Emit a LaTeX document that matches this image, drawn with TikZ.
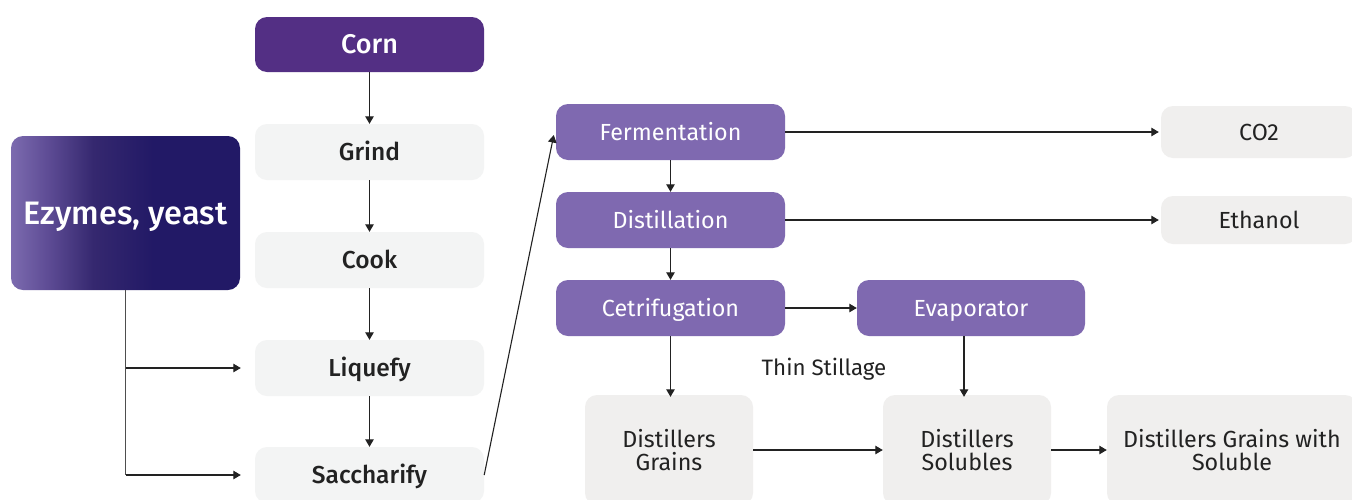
\documentclass[tikz,border=0pt]{standalone}
\usepackage{fontspec}
\setmainfont{Fira Sans}[BoldFont={Fira Sans Medium}]
\usetikzlibrary{arrows.meta}
\definecolor{cornc}{HTML}{532F84}
\definecolor{procc}{HTML}{7F69B0}
\definecolor{grayL}{HTML}{F3F4F4}
\definecolor{grayR}{HTML}{F0EFEE}
\definecolor{txt}{HTML}{222222}
\definecolor{ezA}{HTML}{7C6BAF}
\definecolor{ezB}{HTML}{5E4C95}
\definecolor{ezC}{HTML}{35286F}
\definecolor{ezD}{HTML}{221966}
\pgfdeclarehorizontalshading{ezyshade}{100bp}{color(0bp)=(ezA); color(25bp)=(ezA); color(33bp)=(ezB); color(43bp)=(ezC); color(56bp)=(ezD); color(100bp)=(ezD)}
\tikzset{
  base/.style={rounded corners=12pt, minimum width=229pt, minimum height=56pt, inner sep=0pt, align=center, font=\fontsize{23.3}{23}\selectfont},
  capped/.style={text height=#1, text depth=0pt},
  dark/.style={base, capped=18.6pt, fill=cornc, text=white, font=\fontsize{27}{28}\selectfont\bfseries},
  lgray/.style={base, capped=16.9pt, fill=grayL, text=txt, font=\fontsize{24.5}{26}\selectfont\bfseries},
  proc/.style={base, capped=16pt, fill=procc, text=white},
  rgray/.style={base, fill=grayR, text=txt},
  arr/.style={draw=txt, line width=1.1pt, -{Triangle[width=8.5pt,length=7.5pt]}},
  ln/.style={draw=txt!80, line width=1.1pt}
}
\begin{document}
\begin{tikzpicture}[x=1pt,y=-1pt]
\useasboundingbox (0,0) rectangle (1352,499);
\clip (0,0) rectangle (1352,499);
\fill[white] (0,0) rectangle (1352,499);
% left column
\node[dark] (corn) at (369.5,44.5) [minimum height=55pt] {Corn};
\node[lgray] (grind) at (369.5,152) {Grind};
\node[lgray] (cook) at (369.5,260) {Cook};
\node[lgray] (liq) at (369.5,368) {Liquefy};
\node[lgray] (sacc) at (369.5,475) {Saccharify};
\node[base, capped=22.4pt, shading=ezyshade, text=white, minimum height=154pt, font=\fontsize{32.5}{34}\selectfont\bfseries] (ezy) at (125.5,213) {Ezymes, yeast};
% process column
\node[proc] (ferm) at (670.5,132) {Fermentation};
\node[proc] (dist) at (670.5,220) {Distillation};
\node[proc] (cent) at (670.5,308) {Cetrifugation};
\node[proc, minimum width=228pt] (evap) at (971,308) {Evaporator};
% outputs
\node[rgray, capped=16pt, minimum width=196pt, minimum height=52pt] (co2) at (1259,132) {CO2};
\node[rgray, capped=16pt, minimum width=196pt, minimum height=48pt] (eth) at (1259,220) {Ethanol};
\node[rgray, minimum width=168pt, minimum height=110pt] (dg) at (669,450) {Distillers\\Grains};
\node[rgray, minimum width=168pt, minimum height=110pt] (ds) at (967,450) {Distillers\\Solubles};
\node[rgray, minimum width=250pt, minimum height=110pt] (dgs) at (1232,450) {Distillers Grains with\\Soluble};
\node[text=txt, font=\fontsize{22.3}{24}\selectfont, inner sep=0pt] (thin) at (824,369) {Thin Stillage};
% connectors
\draw[arr] (corn) -- (grind);
\draw[arr] (grind) -- (cook);
\draw[arr] (cook) -- (liq);
\draw[arr] (liq) -- (sacc);
\draw[ln] (ezy.south) -- (ezy.south |- sacc.west);
\draw[arr, shorten >=14pt] (ezy.south |- liq.west) -- (liq.west);
\draw[arr, shorten >=14pt] (ezy.south |- sacc.west) -- (sacc.west);
\draw[arr] (sacc.east) -- ([xshift=-2pt,yshift=-3pt]ferm.west);
\draw[arr] (ferm) -- (dist);
\draw[arr] (dist) -- (cent);
\draw[arr] (ferm.east) -- ([xshift=-2pt]co2.west);
\draw[arr] (dist.east) -- ([xshift=-2pt]eth.west);
\draw[arr] (cent.east) -- (evap.west);
\draw[arr] (cent.south) -- ([yshift=-2pt]cent.south |- dg.north);
\draw[arr] ([xshift=-3pt]ds.north |- evap.south) -- ([xshift=-3pt,yshift=-2pt]ds.north);
\draw[arr] (dg.east) -- (ds.west);
\draw[arr] (ds.east) -- (dgs.west);
\end{tikzpicture}
\end{document}
